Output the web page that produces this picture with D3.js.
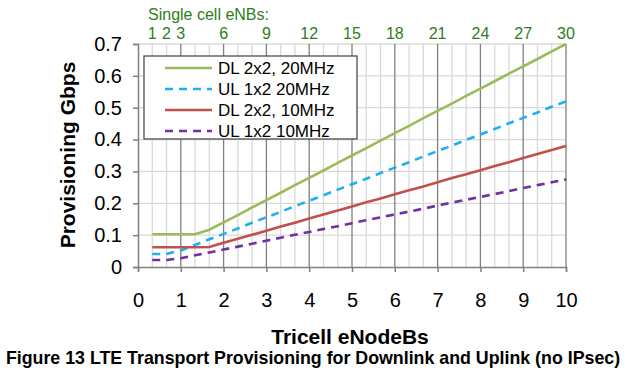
<!DOCTYPE html>
<html><head><meta charset="utf-8">
<script src="https://cdn.jsdelivr.net/npm/d3@7"></script>
<style>
html,body{margin:0;padding:0;background:#fff;}
svg{display:block;font-family:"Liberation Sans",Arial,sans-serif;}
</style></head>
<body>
<svg id="chart" width="640" height="381"></svg>
<script>
// Single cell eNB counts (x in tricell = n/3)
const singleCells = d3.range(1, 31);
const dl20 = [0.103,0.103,0.103,0.103,0.117,0.140,0.163,0.187,0.210,0.233,0.257,0.280,0.303,0.327,0.350,0.373,0.397,0.420,0.443,0.467,0.490,0.513,0.537,0.560,0.583,0.607,0.630,0.653,0.677,0.700];
const ul20 = [0.041,0.041,0.052,0.069,0.087,0.104,0.121,0.139,0.156,0.173,0.191,0.208,0.225,0.243,0.260,0.277,0.295,0.312,0.329,0.347,0.364,0.381,0.399,0.416,0.433,0.451,0.468,0.485,0.503,0.520];
const dl10 = [0.062,0.062,0.062,0.062,0.063,0.076,0.089,0.101,0.114,0.127,0.139,0.152,0.165,0.177,0.190,0.203,0.215,0.228,0.241,0.253,0.266,0.279,0.291,0.304,0.317,0.329,0.342,0.355,0.367,0.380];
const ul10 = [0.022,0.022,0.0275,0.0367,0.0458,0.055,0.064,0.073,0.0825,0.092,0.101,0.110,0.119,0.128,0.1375,0.147,0.156,0.165,0.174,0.183,0.193,0.202,0.211,0.220,0.229,0.238,0.248,0.257,0.266,0.275];
const seriesNames = ["DL 2x2, 20MHz","UL 1x2 20MHz","DL 2x2, 10MHz","UL 1x2 10MHz"];
const seriesColors = ["#9bbb59","#1cb0ef","#c0504d","#7030a0"];
const seriesDash = [null,"8,6",null,"8,6"];
const xTicks = [0,1,2,3,4,5,6,7,8,9,10];
const yTicks = [0,0.1,0.2,0.3,0.4,0.5,0.6,0.7];
const topTicks = [1,2,3,6,9,12,15,18,21,24,27,30];

const svg = d3.select("#chart");
const x = d3.scaleLinear().domain([0,10]).range([138,566]);
const y = d3.scaleLinear().domain([0,0.7]).range([267,44]);
const allSeries = [dl20, ul20, dl10, ul10];

// minor vertical gridlines (every single cell)
svg.append("g").selectAll("line").data(singleCells.filter(n=>n%3!==0))
  .join("line").attr("x1",n=>x(n/3)).attr("x2",n=>x(n/3))
  .attr("y1",y(0)).attr("y2",y(0.7)).attr("stroke","#d9d9d9").attr("stroke-width",1.3);
// horizontal gridlines
svg.append("g").selectAll("line").data(yTicks.slice(1))
  .join("line").attr("x1",x(0)).attr("x2",x(10))
  .attr("y1",d=>y(d)).attr("y2",d=>y(d)).attr("stroke","#d9d9d9").attr("stroke-width",1.3);
// major vertical gridlines
svg.append("g").selectAll("line").data(xTicks.slice(1))
  .join("line").attr("x1",d=>x(d)).attr("x2",d=>x(d))
  .attr("y1",y(0)).attr("y2",y(0.7)).attr("stroke","#808080").attr("stroke-width",1.3);

// axes
const xAxis = svg.append("g").attr("transform",`translate(0,${y(0)})`)
  .call(d3.axisBottom(x).tickValues(xTicks).tickSize(5).tickPadding(21).tickFormat(d3.format("d")));
const yAxis = svg.append("g").attr("transform",`translate(${x(0)},0)`)
  .call(d3.axisLeft(y).tickValues(yTicks).tickSize(5).tickPadding(11).tickFormat(d=>d===0?"0":d3.format(".1f")(d)));
[xAxis,yAxis].forEach(g=>{
  g.selectAll("path,line").attr("stroke","#808080").attr("stroke-width",1.5);
  g.selectAll("text").attr("fill","#000").style("font-size","20px").style("font-family","Liberation Sans, Arial, sans-serif");
});

// top axis labels
svg.append("g").selectAll("text").data(topTicks).join("text")
  .attr("x",n=>x(n/3)).attr("y",39).attr("text-anchor","middle")
  .attr("fill","#2e7d1a").style("font-size","16px").text(d=>d);
svg.append("text").attr("x",148).attr("y",20).attr("fill","#2e7d1a")
  .style("font-size","16px").text("Single cell eNBs:");

// lines
const line = d3.line().x((d,i)=>x(singleCells[i]/3)).y(d=>y(d));
allSeries.forEach((s,k)=>{
  svg.append("path").datum(s).attr("d",line).attr("fill","none")
    .attr("stroke",seriesColors[k]).attr("stroke-width",2.6)
    .attr("stroke-dasharray",seriesDash[k]);
});

// legend
const lg = svg.append("g");
lg.append("rect").attr("x",144).attr("y",56).attr("width",213).attr("height",83)
  .attr("fill","#fff").attr("stroke","#404040").attr("stroke-width",1.2);
seriesNames.forEach((nm,k)=>{
  const yy = 68 + k*21;
  lg.append("line").attr("x1",165).attr("x2",212).attr("y1",yy).attr("y2",yy)
    .attr("stroke",seriesColors[k]).attr("stroke-width",2.6).attr("stroke-dasharray",seriesDash[k]);
  lg.append("text").attr("x",218).attr("y",yy+6).style("font-size","17px").attr("fill","#000").text(nm);
});

// titles
svg.append("text").attr("transform","translate(75,155) rotate(-90)").attr("text-anchor","middle")
  .style("font-size","21px").style("font-weight","bold").text("Provisioning Gbps");
svg.append("text").attr("x",350).attr("y",344).attr("text-anchor","middle")
  .style("font-size","21px").style("font-weight","bold").text("Tricell eNodeBs");
svg.append("text").attr("x",313).attr("y",364).attr("text-anchor","middle")
  .style("font-size","17.8px").style("font-weight","bold")
  .text("Figure 13 LTE Transport Provisioning for Downlink and Uplink (no IPsec)");
</script>
</body></html>
